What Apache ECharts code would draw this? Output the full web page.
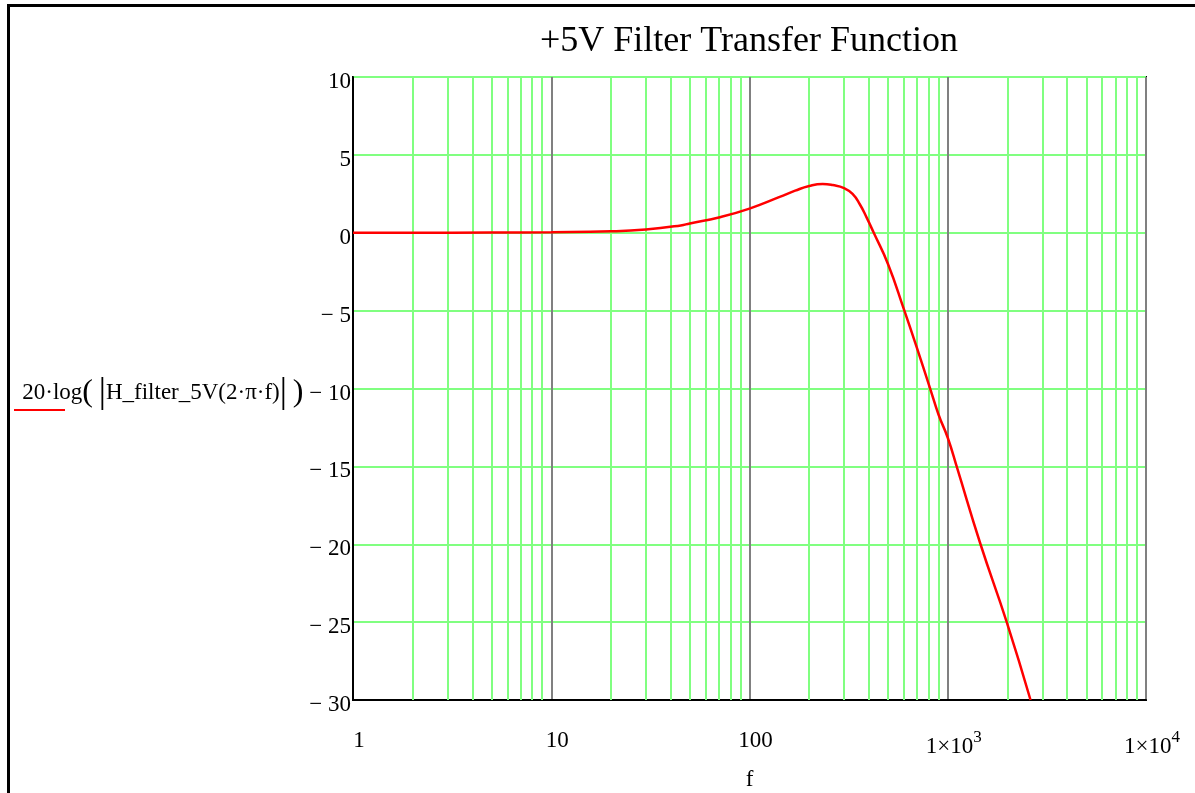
<!DOCTYPE html>
<html>
<head>
<meta charset="utf-8">
<script src="https://cdn.jsdelivr.net/npm/echarts@6/dist/echarts.min.js"></script>
<style>
  html, body { margin: 0; padding: 0; background: #fff; }
  #box { width: 1195px; height: 793px; }
</style>
</head>
<body>
<div id="box"></div>
<script>
// frequency (Hz) and gain (dB)
const freqs = [1, 2, 5, 10, 20, 30, 45, 50, 70, 100, 142, 170, 200, 234, 263, 300, 331, 360, 390, 424, 500, 603, 701, 812, 900, 1000, 1115, 1463, 1984, 2616];
const gains = [0, 0, 0.01, 0.03, 0.09, 0.21, 0.47, 0.6, 0.98, 1.55, 2.3, 2.7, 3.0, 3.13, 3.06, 2.87, 2.49, 1.83, 0.97, -0.02, -2.02, -4.97, -7.44, -9.94, -11.7, -13.16, -15.1, -20, -25, -30];

const xTicks = [1, 10, 100, 1000, 10000];
const xTickLabels = ["1", "10", "100", "1×10{s|3}", "1×10{s|4}"];
const yMin = -30, yMax = 10, yStep = 5;

// green lines at 2..9 of every decade
let minorLines = [];
for (let d = 1; d < 10000; d *= 10) {
  for (let k = 2; k <= 9; k++) minorLines.push(k * d);
}

const serif = "Liberation Serif";
let chart = echarts.init(document.getElementById("box"));

let option = {
  animation: false,
  title: {
    text: "+5V Filter Transfer Function",
    left: 744,
    textAlign: "center",
    top: 19,
    textStyle: { fontFamily: serif, fontSize: 36, fontWeight: "normal", color: "#000" }
  },
  legend: {
    left: 9,
    top: 404,
    icon: "rect",
    itemWidth: 51,
    itemHeight: 2,
    formatter: () => "",
    data: ["gain"]
  },
  grid: {
    left: 353, top: 77, right: 49, bottom: 93,
    containLabel: false,
    outerBoundsMode: "none",
    show: true, borderColor: "#000", borderWidth: 2
  },
  xAxis: {
    type: "log",
    logBase: 10,
    min: 1,
    max: 10000,
    name: "f",
    nameLocation: "middle",
    nameGap: 68,
    nameTextStyle: { fontFamily: serif, fontSize: 23, color: "#000" },
    axisLine: { onZero: false, lineStyle: { color: "#000", width: 2 } },
    axisTick: { show: false },
    axisLabel: {
      margin: 29,
      fontFamily: serif, fontSize: 23, color: "#000",
      padding: [0, 0, 0, 12],
      formatter: function (v) {
        let i = xTicks.indexOf(Math.round(v));
        return i >= 0 ? xTickLabels[i] : "";
      },
      rich: {
        s: { fontFamily: serif, fontSize: 17, color: "#000", padding: [0, 0, 18, 0] }
      }
    },
    splitLine: { show: true, lineStyle: { color: "#808080", width: 2 } }
  },
  yAxis: {
    type: "value",
    min: yMin,
    max: yMax,
    interval: yStep,
    name: "20·log{p|(} {b||}H_filter_5V(2·π·f){b||} {p|)}",
    nameLocation: "middle",
    nameRotate: 0,
    nameGap: 41,
    nameTextStyle: {
      fontFamily: serif, fontSize: 23, color: "#000", align: "right",
      padding: [8, 0, 0, 0],
      rich: {
        p: { fontFamily: serif, fontSize: 32, color: "#000" },
        b: { fontFamily: serif, fontSize: 36, color: "#000" }
      }
    },
    axisLine: { lineStyle: { color: "#000", width: 2 } },
    axisTick: { show: false },
    axisLabel: {
      margin: 2,
      fontFamily: serif, fontSize: 23, color: "#000",
      formatter: function (v) {
        return "{a|" + (v < 0 ? "− " + Math.abs(v) : String(v)) + "}";
      },
      rich: {
        a: { fontFamily: serif, fontSize: 23, color: "#000", padding: [10, 0, 0, 0] }
      }
    },
    splitLine: { show: true, lineStyle: { color: "#80ff80", width: 2 } }
  },
  series: [
    {
      name: "grid",
      type: "line",
      data: [],
      silent: true,
      z: 1,
      markLine: {
        silent: true,
        symbol: "none",
        label: { show: false },
        lineStyle: { color: "#80ff80", width: 2, type: "solid" },
        data: minorLines.map(v => ({ xAxis: v }))
      }
    },
    {
      name: "gain",
      type: "line",
      z: 5,
      data: freqs.map((f, i) => [f, gains[i]]),
      showSymbol: false,
      smooth: 0.5,
      color: "#ff0000",
      lineStyle: { color: "#ff0000", width: 2.5 }
    }
  ],
  graphic: [
    {
      type: "rect",
      shape: { x: 8.5, y: 5.5, width: 1300, height: 900 },
      style: { fill: "none", stroke: "#000", lineWidth: 3 },
      silent: true
    }
  ]
};

chart.setOption(option);
</script>
</body>
</html>
